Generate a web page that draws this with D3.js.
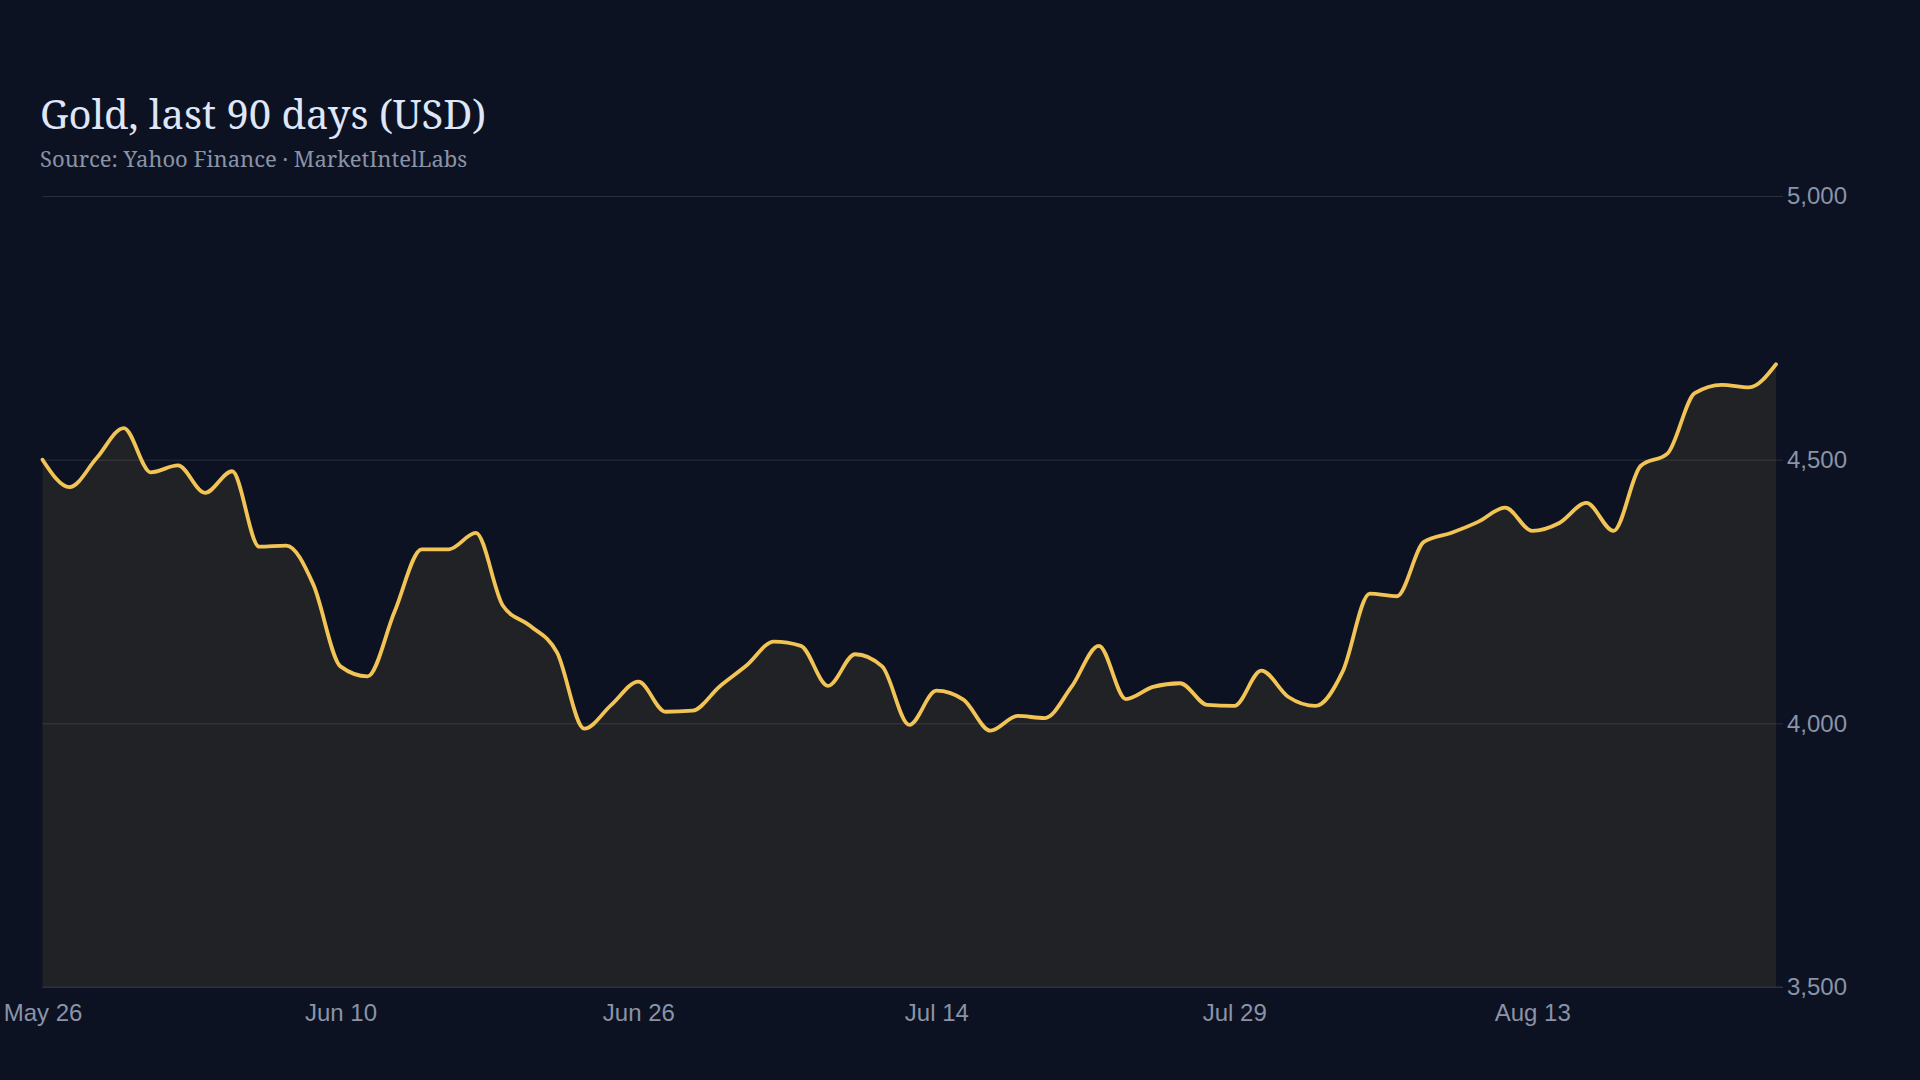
<!DOCTYPE html>
<html>
<head>
<meta charset="utf-8">
<script src="https://cdn.jsdelivr.net/npm/d3@7"></script>
<style>
  html, body { margin: 0; padding: 0; background: #0c1222; }
  #chart { width: 1920px; height: 1080px; }
  .title { font-family: "Noto Serif", "DejaVu Serif", serif; }
  .axis text { font-family: "Liberation Sans", Arial, sans-serif; }
</style>
</head>
<body>
<div id="chart"></div>
<script>
// Gold close, one value per trading day
const prices = [
  4500, 4448, 4503, 4560, 4476, 4489, 4437, 4478, 4335, 4337,
  4263, 4108, 4089, 4212, 4330, 4330, 4361, 4223, 4185, 4134,
  3990, 4035, 4079, 4022, 4024, 4070, 4110, 4155, 4147, 4071,
  4131, 4108, 3997, 4062, 4045, 3986, 4014, 4010, 4070, 4147,
  4046, 4069, 4076, 4035, 4033, 4100, 4050, 4033, 4098, 4246,
  4241, 4344, 4361, 4382, 4409, 4365, 4380, 4418, 4365, 4488,
  4512, 4626, 4642, 4637, 4681
];
const tickIndex = [0, 11, 22, 33, 44, 55];
const tickLabels = ["May 26", "Jun 10", "Jun 26", "Jul 14", "Jul 29", "Aug 13"];
const yTicks = [3500, 4000, 4500, 5000];

const titleText = "Gold, last 90 days (USD)";
const subtitleText = "Source: Yahoo Finance \u00b7 MarketIntelLabs";

const width = 1920, height = 1080;
const margin = {top: 196, right: 144, bottom: 93, left: 42.5};

const svg = d3.select("#chart")
  .append("svg")
    .attr("width", width)
    .attr("height", height);

svg.append("rect")
  .attr("width", width)
  .attr("height", height)
  .attr("fill", "#0c1222");

const x = d3.scaleLinear()
  .domain([0, prices.length - 1])
  .range([margin.left, width - margin.right]);

const y = d3.scaleLinear()
  .domain([3500, 5000])
  .range([height - margin.bottom, margin.top]);

// gridlines + right labels
const gridRight = width - margin.right + 7;
svg.append("g")
  .attr("class", "axis")
  .attr("transform", `translate(${gridRight},0)`)
  .call(d3.axisRight(y)
    .tickValues(yTicks)
    .tickFormat(d3.format(","))
    .tickSize(-(gridRight - margin.left))
    .tickPadding(4))
  .call(g => g.select(".domain").remove())
  .call(g => g.selectAll("line").attr("stroke", "#2a2f3c").attr("stroke-width", 1))
  .call(g => g.selectAll("text").attr("fill", "#8a93a8").attr("font-size", 24));

const area = d3.area()
  .curve(d3.curveMonotoneX)
  .x((d, i) => x(i))
  .y0(y(3500))
  .y1(d => y(d));

const line = d3.line()
  .curve(d3.curveMonotoneX)
  .x((d, i) => x(i))
  .y(d => y(d));

svg.append("path")
  .datum(prices)
  .attr("d", area)
  .attr("fill", "#f2c455")
  .attr("fill-opacity", 0.09);

// redraw grid line over the area bottom edge
svg.append("line")
  .attr("x1", margin.left).attr("x2", gridRight)
  .attr("y1", y(3500)).attr("y2", y(3500))
  .attr("stroke", "#2e333f");

svg.append("path")
  .datum(prices)
  .attr("d", line)
  .attr("fill", "none")
  .attr("stroke", "#f2c455")
  .attr("stroke-width", 3.8)
  .attr("stroke-linejoin", "round")
  .attr("stroke-linecap", "round");

// x axis labels
svg.append("g")
  .attr("class", "axis")
  .attr("transform", `translate(0,${height - margin.bottom})`)
  .call(d3.axisBottom(x)
    .tickValues(tickIndex)
    .tickFormat((d, i) => tickLabels[i])
    .tickSize(0)
    .tickPadding(17))
  .call(g => g.select(".domain").remove())
  .call(g => g.selectAll("text").attr("fill", "#8a93a8").attr("font-size", 24));

svg.append("text")
  .attr("class", "title")
  .attr("x", 40)
  .attr("y", 129)
  .attr("fill", "#dfe6f7")
  .attr("font-size", 40)
  .text(titleText);

svg.append("text")
  .attr("class", "title")
  .attr("x", 40)
  .attr("y", 167)
  .attr("fill", "#8a93a6")
  .attr("font-size", 22)
  .text(subtitleText);
</script>
</body>
</html>
